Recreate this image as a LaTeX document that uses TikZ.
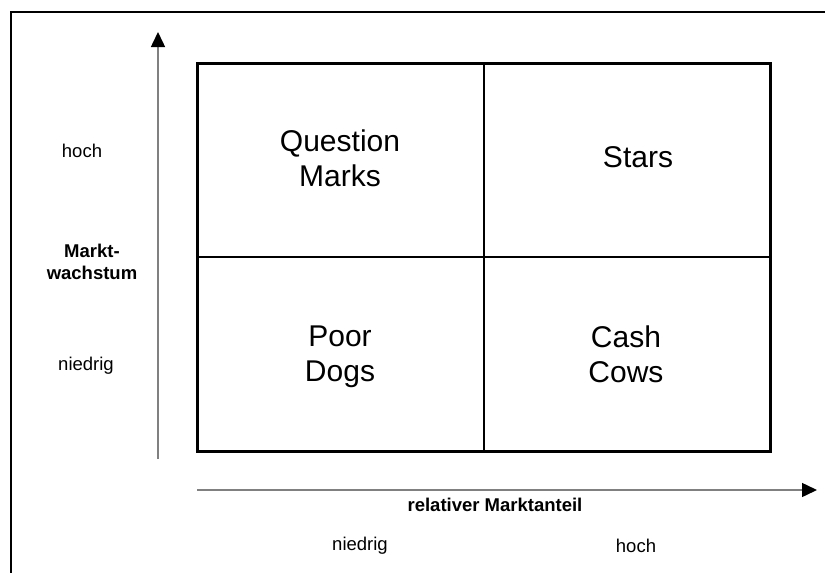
\documentclass[tikz,border=0pt]{standalone}
\usepackage{fontspec}
\setmainfont{Liberation Sans}
\usetikzlibrary{
    positioning,
    calc,
    arrows.meta
}
\tikzset{
  field/.style = {
      font=\fontsize{30}{35}\selectfont,
      align=center,
      text depth=0pt,
      inner sep=0pt
  },
  axis label/.style = {
      font=\fontsize{18.5}{22}\selectfont,
      align=center,
      inner sep=0pt
  },
  axis title/.style = {
      axis label,
      font=\fontsize{18.5}{22}\selectfont\bfseries
  },
  axis/.style = {
      draw=gray,
      line width=1.5pt,
      -{Triangle[length=15pt,width=14pt,color=black]}
  },
  frame/.style = {
      line width=2pt
  },
  matrix box/.style = {
      line width=3pt
  },
  divider/.style = {
      line width=1.5pt
  }
}

\begin{document}
\begin{tikzpicture}[x=1pt,y=-1pt]
        \useasboundingbox (0,0) rectangle (825,573);
        % Frame
        \draw[frame] (826,12) -- (11,12) -- (11,574);
        % Matrix
        \coordinate (nw) at (197,63);
        \coordinate (se) at (770,451);
        \draw[matrix box] (nw) rectangle (se);
        \coordinate (top) at (484,63);
        \coordinate (bottom) at (484,451);
        \coordinate (left) at (197,257);
        \coordinate (right) at (770,257);
        \draw[divider] (top) -- (bottom);
        \draw[divider] (left) -- (right);
        % Nodes
        \node[field] (qm) at (340,158) {Question\\Marks};
        \node[field] (stars) at (638,157) {Stars};
        \node[field] (dogs) at (340,354) {Poor\\Dogs};
        \node[field] (cows) at (626,354) {Cash\\Cows};
        \node[axis label] (yhigh) at (82,151) {hoch};
        \node[axis title] (ytitle) at (92,262) {Markt-\\wachstum};
        \node[axis label] (ylow) at (86,366) {niedrig};
        \node[axis title] (xtitle) at (495,505) {relativer Marktanteil};
        \node[axis label] (xlow) at (360,546) {niedrig};
        \node[axis label] (xhigh) at (636,546) {hoch};
        % Axes
        \coordinate (y0) at (158,459);
        \coordinate (y1) at (158,32);
        \coordinate (x0) at (197,490);
        \coordinate (x1) at (817,490);
        \draw[axis] (y0) -- (y1);
        \draw[axis] (x0) -- (x1);
    \end{tikzpicture}
\end{document}
